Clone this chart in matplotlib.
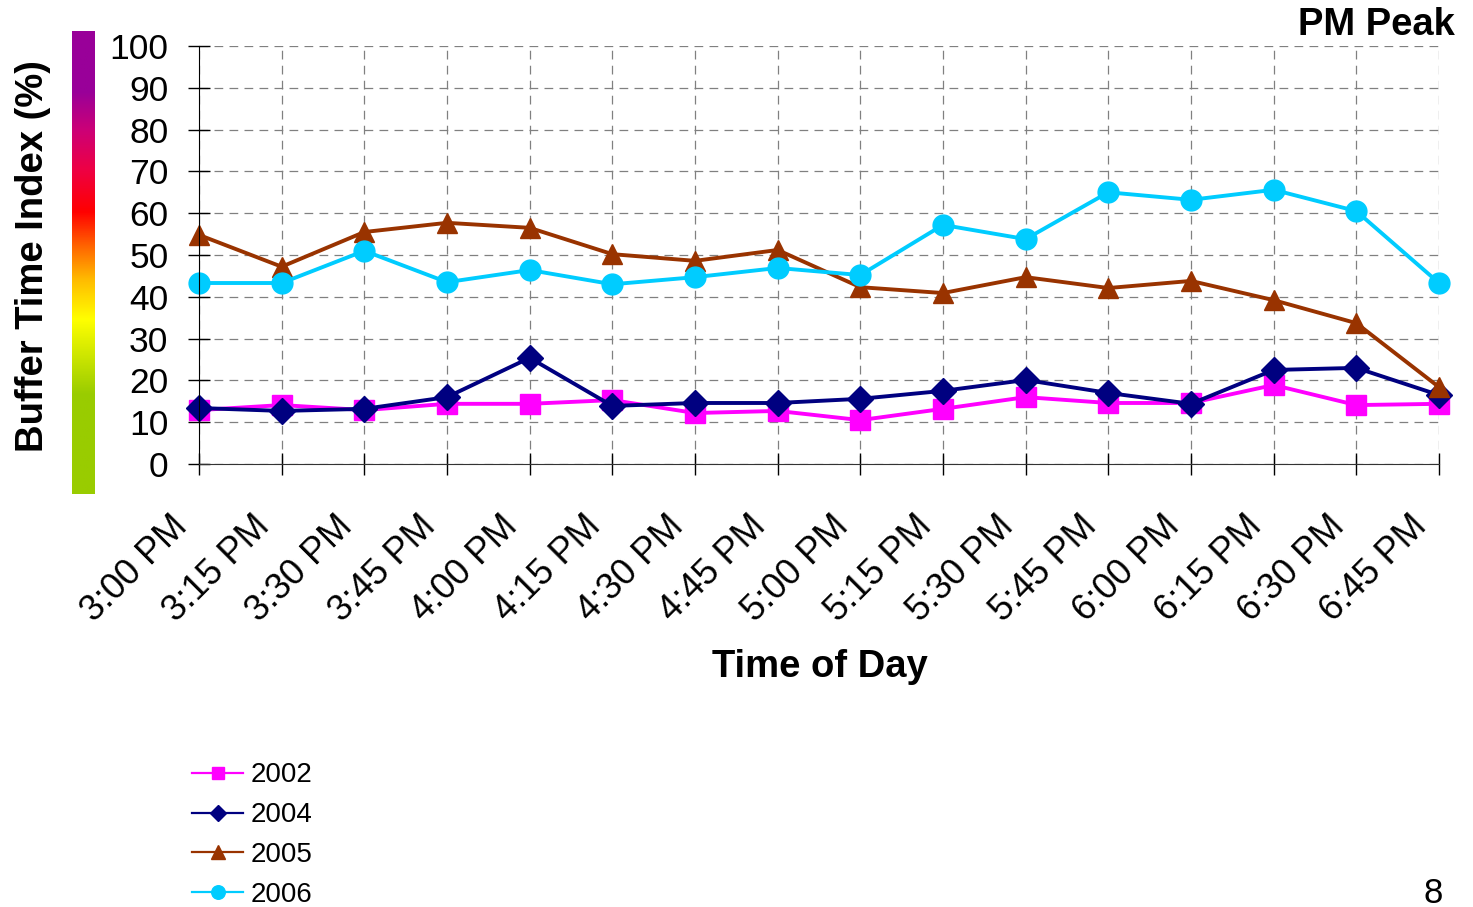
import matplotlib
matplotlib.use("Agg")
import matplotlib.pyplot as plt
import matplotlib.transforms as mtransforms
from matplotlib.colors import LinearSegmentedColormap
from matplotlib.lines import Line2D
import numpy as np

plt.rcParams["font.family"] = ["Liberation Sans", "DejaVu Sans"]

# categories and series values
times = ["3:00 PM", "3:15 PM", "3:30 PM", "3:45 PM", "4:00 PM", "4:15 PM",
         "4:30 PM", "4:45 PM", "5:00 PM", "5:15 PM", "5:30 PM", "5:45 PM",
         "6:00 PM", "6:15 PM", "6:30 PM", "6:45 PM"]
bti_2002 = [12.9, 14.1, 12.9, 14.4, 14.4, 15.3, 12.2, 12.7, 10.5, 13.2, 16.0, 14.6, 14.6, 18.9, 14.1, 14.4]
bti_2004 = [13.4, 12.7, 13.2, 16.0, 25.4, 13.9, 14.6, 14.6, 15.6, 17.5, 20.1, 17.0, 14.4, 22.5, 23.0, 16.5]
bti_2005 = [54.8, 47.2, 55.5, 57.7, 56.5, 50.2, 48.6, 51.2, 42.3, 40.9, 44.7, 42.1, 43.8, 39.2, 33.7, 18.4]
bti_2006 = [43.3, 43.3, 51.0, 43.5, 46.4, 43.0, 44.7, 46.9, 45.2, 57.2, 53.8, 65.0, 63.2, 65.6, 60.5, 43.3]

years = ["2002", "2004", "2005", "2006"]
series = [bti_2002, bti_2004, bti_2005, bti_2006]
colors = ["#ff00ff", "#000080", "#993300", "#00ccff"]
markers = ["s", "D", "^", "o"]
msizes = [14, 13, 15, 15]

fig = plt.figure(figsize=(14.73, 9.07), dpi=100)

# colour scale bar on the left
cax = fig.add_axes([0.0489, 0.4553, 0.0156, 0.5105])
scale_cmap = LinearSegmentedColormap.from_list(
    "bti",
    [(0.0, "#99cc00"), (0.214, "#99cc00"), (0.376, "#ffff00"), (0.462, "#ffbb00"),
     (0.533, "#ff6600"), (0.609, "#ff0000"), (0.700, "#ee0044"), (0.786, "#cc0077"),
     (0.868, "#990099"), (1.0, "#990099")],
)
cax.imshow(np.linspace(0, 1, 256).reshape(-1, 1), aspect="auto", cmap=scale_cmap,
           origin="lower", extent=[0, 1, 0, 1])
cax.set_axis_off()

ax = fig.add_axes([0.1351, 0.4884, 0.8418, 0.4609])
x = np.arange(len(times))
for vals, year, c, m, ms in zip(series, years, colors, markers, msizes):
    ax.plot(x, vals, color=c, marker=m, markersize=ms, lw=2.8, label=year, clip_on=False)

ax.set_xlim(0, len(times) - 1)
ax.set_ylim(0, 100)
ax.set_yticks(np.arange(0, 101, 10))
ax.set_xticks(x)
ax.set_xticklabels(times, rotation=45, ha="right", va="center", rotation_mode="anchor")
ax.tick_params(axis="y", direction="inout", length=16, width=1, pad=14, labelsize=25.5)
ax.tick_params(axis="x", direction="inout", length=16, width=1, pad=33, labelsize=26)
offset = mtransforms.ScaledTranslation(-0.17, 0, fig.dpi_scale_trans)
for lab in ax.get_xticklabels():
    lab.set_transform(lab.get_transform() + offset)

ax.grid(True, color="#808080", linestyle=(0, (7, 5)), lw=0.9)
ax.set_axisbelow(True)
for side in ("top", "right"):
    ax.spines[side].set_visible(False)
ax.spines["left"].set_color("black")
ax.spines["bottom"].set_color("#333333")

fig.text(0.0224, 0.7178, "Buffer Time Index (%)", rotation=90, ha="center", va="center",
         fontsize=27.5, fontweight="bold")
fig.text(0.5567, 0.2646, "Time of Day", ha="center", va="center", fontsize=27.5, fontweight="bold")
fig.text(0.9878, 0.9724, "PM Peak", ha="right", va="center", fontsize=27.5, fontweight="bold")
fig.text(0.9729, 0.0154, "8", ha="center", va="center", fontsize=25)

handles = [Line2D([], [], color=c, marker=m, markersize=ms * 0.65, lw=1.6)
           for c, m, ms in zip(colors, markers, msizes)]
fig.legend(handles, years, loc="upper left", bbox_to_anchor=(0.1303, 0.1595),
           frameon=False, fontsize=20, handlelength=1.85, handletextpad=0.25,
           labelspacing=0.5, borderpad=0, borderaxespad=0)

fig.savefig("out.png", dpi=100)
